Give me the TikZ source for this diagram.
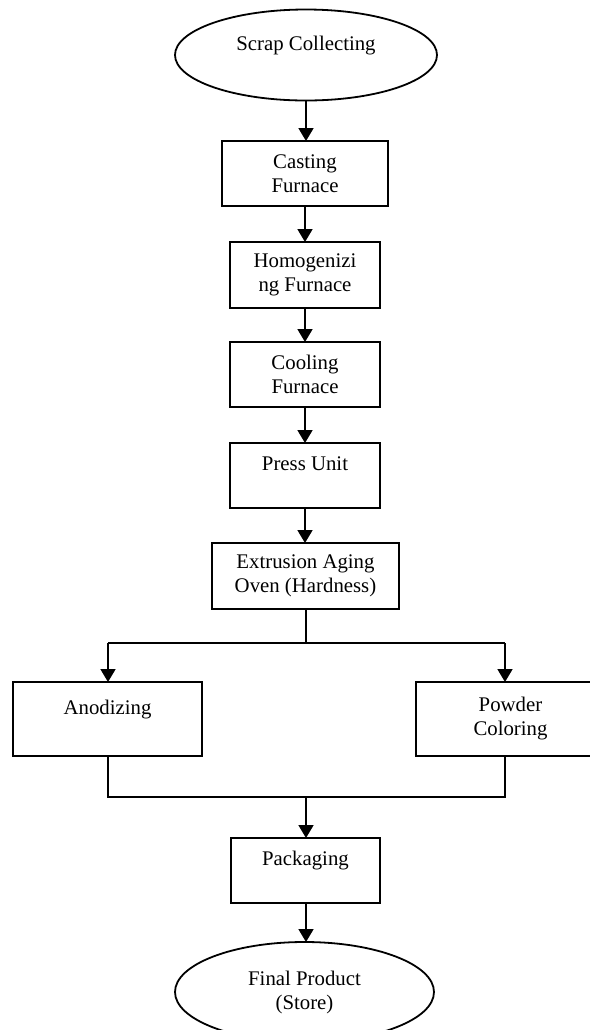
\documentclass[tikz,border=0pt]{standalone}
\usepackage{fontspec}
\setmainfont{Liberation Serif}
\usetikzlibrary{shapes.geometric,arrows.meta}
\begin{document}
\begin{tikzpicture}[x=0.5pt,y=-0.5pt,
  txt/.style={align=center, font=\fontsize{10.4}{12}\selectfont},
  stepbox/.style={txt, draw, line width=0.9pt, rectangle, inner sep=0pt, outer sep=0pt},
  term/.style={txt, draw, line width=0.9pt, ellipse, inner sep=0pt, outer sep=0pt},
  flow/.style={line width=0.9pt, -{Triangle[length=6.5pt,width=7.5pt]}},
  link/.style={line width=0.9pt}]
\useasboundingbox (0,0) rectangle (590,1030);
\node[term, minimum width=131pt, minimum height=45.5pt] (scrap) at (306,55) {Scrap Collecting\\~};
\node[stepbox, minimum width=83pt, minimum height=32.5pt] (cast) at (305,173.5) {Casting\\Furnace};
\node[stepbox, minimum width=75pt, minimum height=33pt] (homo) at (305,275) {Homogenizi\\ng Furnace};
\node[stepbox, minimum width=75pt, minimum height=32.5pt] (cool) at (305,374.5) {Cooling\\Furnace};
\node[stepbox, minimum width=75pt, minimum height=32.5pt] (press) at (305,475.5) {Press Unit\\~};
\node[stepbox, minimum width=93.5pt, minimum height=33pt] (ext) at (305.5,576) {Extrusion Aging\\Oven (Hardness)};
\node[stepbox, minimum width=94.5pt, minimum height=37pt] (ano) at (107.5,719) {Anodizing\\~};
\node[stepbox, minimum width=94.5pt, minimum height=37pt] (pow) at (510.5,719) {Powder\\Coloring};
\node[stepbox, minimum width=74.5pt, minimum height=32.5pt] (pack) at (305.5,870.5) {Packaging\\~};
\node[term, minimum width=129.5pt, minimum height=50pt] (final) at (304.5,992) {Final Product\\(Store)};

\coordinate (split) at (306,643);
\coordinate (sl) at (108,643);
\coordinate (sr) at (505,643);
\coordinate (ml) at (108,797);
\coordinate (mr) at (505,797);
\coordinate (mc) at (306,797);

\draw[flow] (scrap.south) -- (scrap.south |- cast.north);
\draw[flow] (cast.south) -- (cast.south |- homo.north);
\draw[flow] (homo.south) -- (homo.south |- cool.north);
\draw[flow] (cool.south) -- (cool.south |- press.north);
\draw[flow] (press.south) -- (press.south |- ext.north);
\draw[link] (ext.south -| split) -- (split);
\draw[link] (sl) -- (sr);
\draw[flow] (sl) -- (sl |- ano.north);
\draw[flow] (sr) -- (sr |- pow.north);
\draw[link] (ml |- ano.south) -- (ml) -- (mr) -- (mr |- pow.south);
\draw[flow] (mc) -- (mc |- pack.north);
\draw[flow] (pack.south -| mc) -- (mc |- final.north);
\end{tikzpicture}
\end{document}
